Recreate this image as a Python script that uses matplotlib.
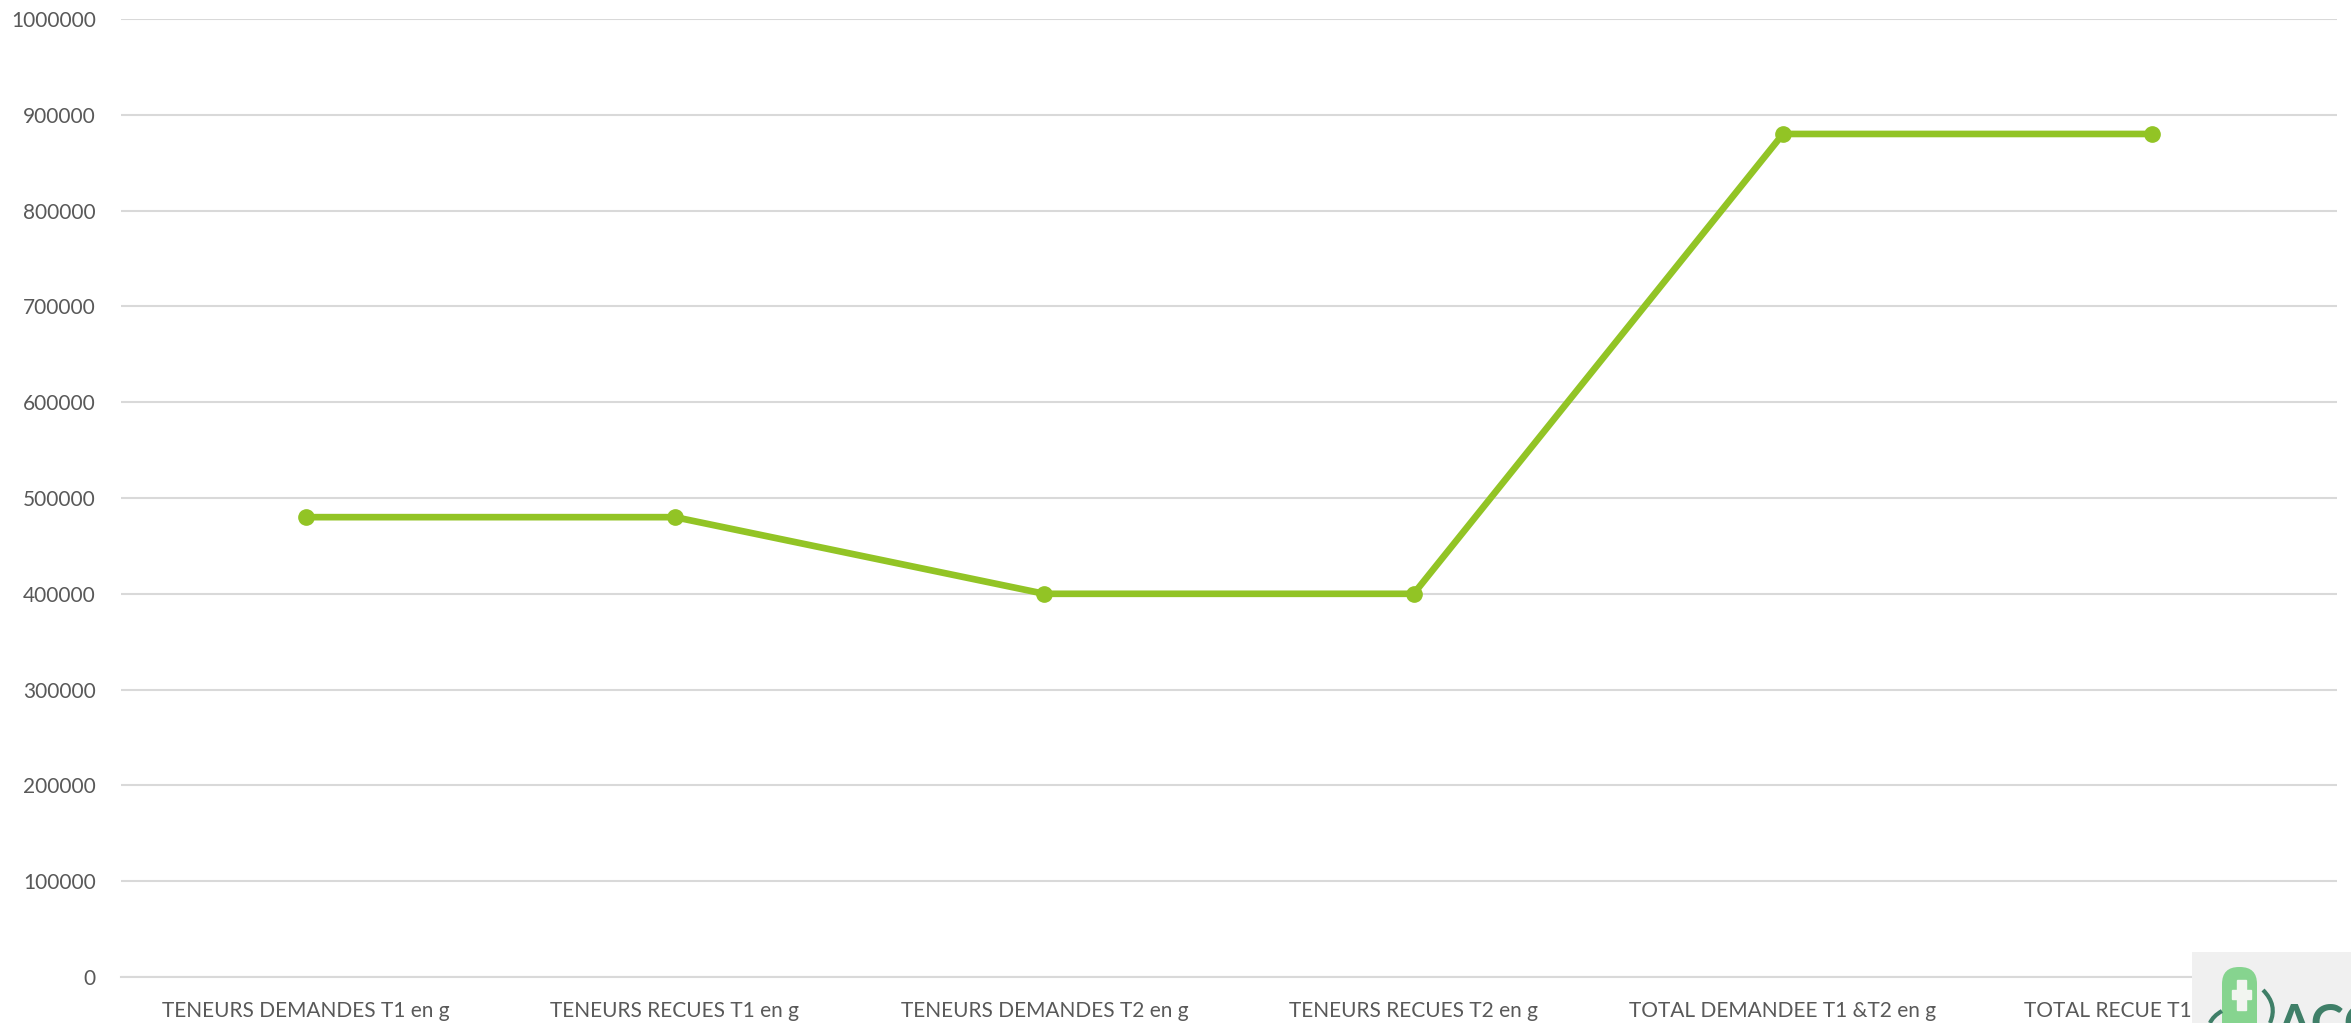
import matplotlib.pyplot as plt
from matplotlib.patches import Rectangle, FancyBboxPatch, PathPatch
from matplotlib.path import Path

categories = ['TENEURS DEMANDES T1 en g', 'TENEURS RECUES T1 en g',
              'TENEURS DEMANDES T2 en g', 'TENEURS RECUES T2 en g',
              'TOTAL DEMANDEE T1 &T2 en g', 'TOTAL RECUE T1 &T2 en g']
values = [480000, 480000, 400000, 400000, 880000, 880000]
y_ticks = [0, 100000, 200000, 300000, 400000, 500000, 600000, 700000, 800000, 900000, 1000000]

W, H = 2351, 1023
plt.rcParams['font.family'] = ['Lato', 'DejaVu Sans']

fig = plt.figure(figsize=(W / 100, H / 100), dpi=100)
ax = fig.add_axes([121 / W, 1 - 977 / H, (2337 - 121) / W, (977 - 19) / H])

ax.plot(range(len(values)), values, color='#92c425', linewidth=4.8, marker='o',
        markersize=11, solid_capstyle='round', zorder=3, clip_on=False)

ax.set_xlim(-0.5, len(categories) - 0.5)
ax.set_ylim(0, 1000000)
ax.set_yticks(y_ticks)
ax.set_yticklabels([str(v) for v in y_ticks])
ax.set_xticks(range(len(categories)))
ax.set_xticklabels(categories)
ax.grid(axis='y', color='#d9d9d9', linewidth=1.5, zorder=0)
ax.set_axisbelow(True)
ax.tick_params(axis='both', length=0, labelsize=15, labelcolor='#595959')
ax.tick_params(axis='y', pad=18)
ax.tick_params(axis='x', pad=17)
for s in ['top', 'right', 'left']:
    ax.spines[s].set_visible(False)
ax.spines['bottom'].set_color('#d9d9d9')
ax.spines['bottom'].set_linewidth(1.5)

# logo in the bottom right corner, sits over the end of the last label
logo = fig.add_axes([2192 / W, 0, (W - 2192) / W, (H - 952) / H], zorder=5)
logo.set_xlim(2192, W)
logo.set_ylim(H, 952)
logo.axis('off')
logo.add_patch(Rectangle((2192, 952), W - 2192, H - 952, color='#f0f0f0', zorder=1))
logo.add_patch(FancyBboxPatch((2222, 967), 35, 90, boxstyle='round,pad=0,rounding_size=17',
                              fc='#86d48f', ec='none', zorder=2))
logo.add_patch(Rectangle((2237, 980), 9, 30, color='#f2f5f0', zorder=3))
logo.add_patch(Rectangle((2232, 990), 19, 9, color='#f2f5f0', zorder=3))
logo.add_patch(PathPatch(Path([(2263, 990), (2278, 1005), (2270, 1023)],
                              [Path.MOVETO, Path.CURVE3, Path.CURVE3]),
                         fc='none', ec='#3f7f68', lw=3, zorder=3))
logo.add_patch(PathPatch(Path([(2222, 1011), (2213, 1016), (2210, 1023)],
                              [Path.MOVETO, Path.CURVE3, Path.CURVE3]),
                         fc='none', ec='#3f7f68', lw=3, zorder=3))
logo.text(2276, 1040, 'ACC', color='#3f7f68', fontsize=36, fontweight='bold',
          va='baseline', ha='left', zorder=3, clip_on=True)

fig.savefig('out.png', dpi=100)
